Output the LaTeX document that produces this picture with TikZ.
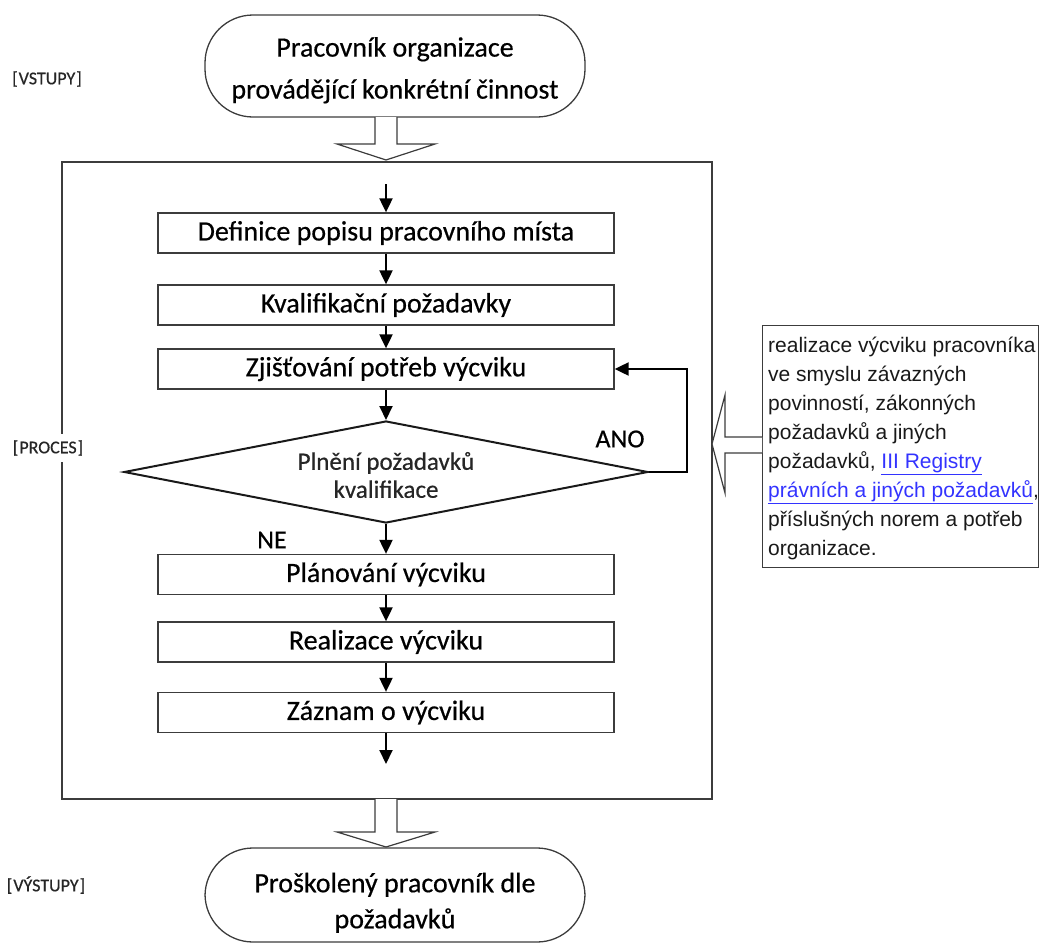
\documentclass[tikz,border=0pt]{standalone}
\usepackage{fontspec}
\setmainfont{Carlito}[FakeBold=0.5]
\newfontfamily\arialfont{Liberation Sans}
\usetikzlibrary{arrows.meta,shapes.geometric}
\definecolor{bord}{HTML}{3C3C3C}
\definecolor{linkblue}{HTML}{3333FF}
\newcommand\lnk[1]{\textcolor{linkblue}{\underline{#1}}}
\begin{document}
\begin{tikzpicture}[x=1pt,y=-1pt,
  stepbox/.style={draw=bord,line width=1.3pt,minimum width=456pt,minimum height=40pt,inner sep=0pt,font=\fontsize{28}{30}\selectfont},
  term/.style={draw=bord,line width=1.3pt,rounded corners=48pt,minimum width=380pt,inner sep=0pt,align=center},
  flow/.style={line width=2pt,-{Triangle[length=14pt,width=13pt]}},
  hollow/.style={draw=bord,line width=1.2pt,fill=white,line join=miter},
  side/.style={font=\fontsize{18}{20}\selectfont,text=black!85,fill=white,inner xsep=1pt,inner ysep=6pt},
  lbl/.style={font=\fontsize{26}{28}\selectfont}]
\useasboundingbox (0,0) rectangle (1039,945);
% process frame
\node[draw=bord,line width=1.3pt,minimum width=650pt,minimum height=637pt,inner sep=0pt] (proc) at (387,480.5) {};
% side labels
\node[side] (lin) at (47,79) {[\kern1pt VSTUPY\kern1pt]};
\node[side] (lpr) at (48,448) {[\kern1pt PROCES\kern1pt]};
\node[side] (lout) at (46,885) {[\kern1pt VÝSTUPY\kern1pt]};
% terminators
\node[term,minimum height=102pt,font=\fontsize{28}{42}\selectfont] (t1) at (395,66) {\rule{0pt}{28pt}Pracovník organizace\\provádějící konkrétní činnost};
\node[term,minimum height=94pt,font=\fontsize{28}{36}\selectfont] (t2) at (395,895) {\rule{0pt}{35pt}Proškolený pracovník dle\\požadavků};
% hollow arrows
\draw[hollow] (375,117) -- (375,144) -- (337,144) -- (386,160) -- (435,144) -- (397,144) -- (397,117);
\draw[hollow] (375,799) -- (375,832) -- (337,832) -- (386,847) -- (435,832) -- (397,832) -- (397,799);
% steps
\node[stepbox] (b1) at (386,233) {Definice popisu pracovního místa};
\node[stepbox] (b2) at (386,305) {Kvalifikační požadavky};
\node[stepbox] (b3) at (386,369) {Zjišťování potřeb výcviku};
\node[diamond,draw=black!90,line width=2pt,minimum width=524pt,minimum height=102pt,inner sep=0pt] (d) at (386,472) {};
\node[font=\fontsize{25}{28}\selectfont,align=center,text=black!85] (dt) at (386,475) {Plnění požadavků\\kvalifikace};
\node[stepbox] (b4) at (386,574.5) {Plánování výcviku};
\node[stepbox] (b5) at (386,642) {Realizace výcviku};
\node[stepbox] (b6) at (386,712.5) {Záznam o výcviku};
\node[lbl] (ano) at (620,439) {ANO};
\node[lbl] (ne) at (272,540) {NE};
% connectors
\coordinate (s0) at (386,184);
\coordinate (e0) at (386,764);
\draw[flow] (s0) -- (b1.north);
\draw[flow] (b1.south) -- (b2.north);
\draw[flow] (b2.south) -- (b3.north);
\draw[flow] (b3.south) -- (d.north);
\draw[flow] (d.east) -- ++(38,0) |- (b3.east);
\draw[flow] (d.south) -- (b4.north);
\draw[flow] (b4.south) -- (b5.north);
\draw[flow] (b5.south) -- (b6.north);
\draw[flow] (b6.south) -- (e0);
% note box
\node[draw=bord,line width=1.2pt,minimum width=276pt,minimum height=242pt,inner sep=0pt,anchor=north west] (note) at (762,325) {};
\node[anchor=north west,align=left,inner sep=0pt,font=\arialfont\fontsize{21}{29}\selectfont,text=black!90] (nt) at (768,337)
 {realizace výcviku pracovníka\\ve smyslu závazných\\povinností, zákonných\\požadavků a jiných\\požadavků, \lnk{III Registry}\\\lnk{právních a jiných požadavků},\\příslušných norem a potřeb\\organizace.};
\draw[hollow] (note.west |- 0,437) -- (725,437) -- (725,395) -- (712,444) -- (725,493) -- (725,453) -- (note.west |- 0,453);
\end{tikzpicture}
\end{document}
